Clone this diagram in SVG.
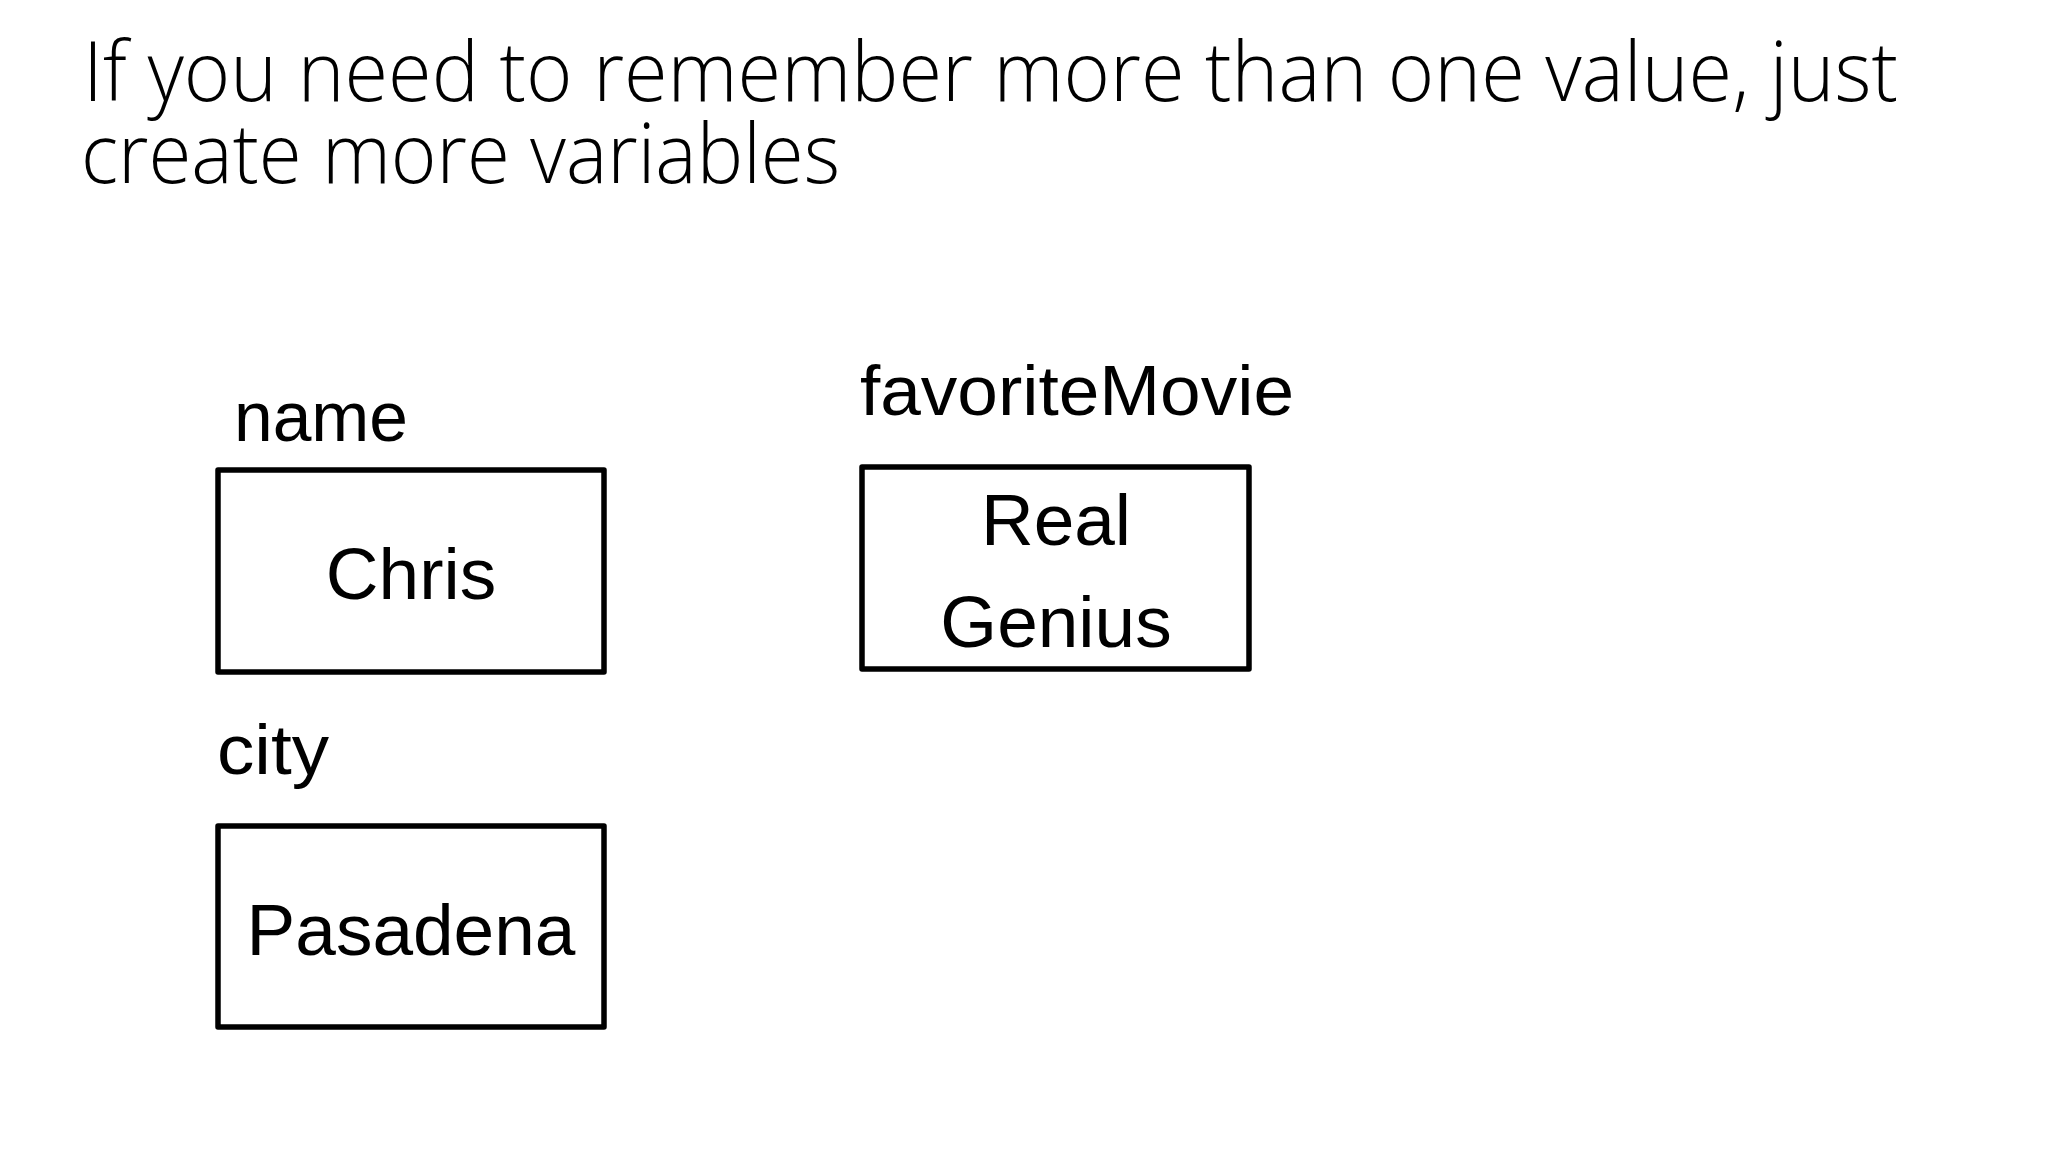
<svg xmlns="http://www.w3.org/2000/svg" width="2048" height="1152" viewBox="0 0 2048 1152">
<style>
.title{font-family:"Open Sans","Liberation Sans",sans-serif;font-weight:300;font-size:83px;fill:#000}
.label{font-family:"Liberation Sans","Noto Sans",sans-serif;font-size:70px;fill:#000}
.value{font-family:"Liberation Sans","Noto Sans",sans-serif;font-size:73px;fill:#000;text-anchor:middle}
.box{fill:#fff;stroke:#000;stroke-width:5.5;stroke-linejoin:round}
</style>
<rect width="2048" height="1152" fill="#fff"/>
<g id="title">
<text class="title" x="83" y="101" textLength="1815" lengthAdjust="spacingAndGlyphs">If you need to remember more than one value, just</text>
<text class="title" x="81" y="183" textLength="759" lengthAdjust="spacingAndGlyphs">create more variables</text>
</g>
<g id="var-name">
<text class="label" x="234" y="441" textLength="174" lengthAdjust="spacingAndGlyphs">name</text>
<rect class="box" x="218" y="470" width="386" height="202"/>
<text class="value" x="411" y="599">Chris</text>
</g>
<g id="var-favoriteMovie">
<text class="label" x="860" y="415" textLength="434" lengthAdjust="spacingAndGlyphs">favoriteMovie</text>
<rect class="box" x="862" y="467" width="387" height="202"/>
<text class="value" x="1056" y="545">Real</text>
<text class="value" x="1056" y="647">Genius</text>
</g>
<g id="var-city">
<text class="label" x="217" y="774" textLength="112" lengthAdjust="spacingAndGlyphs">city</text>
<rect class="box" x="218" y="826" width="386" height="201"/>
<text class="value" x="411" y="955">Pasadena</text>
</g>
<g id="connectors"/>
</svg>
